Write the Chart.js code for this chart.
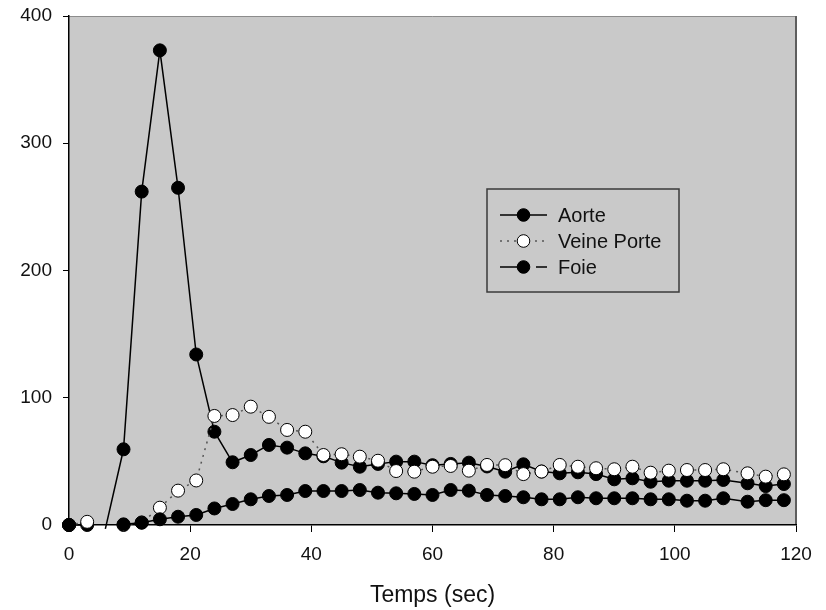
<!DOCTYPE html>
<html>
<head>
<meta charset="utf-8">
<script src="https://cdn.jsdelivr.net/npm/chart.js@4/dist/chart.umd.min.js"></script>
<style>
  html, body { margin: 0; padding: 0; background: #ffffff; }
  #wrap { width: 826px; height: 610px; }
</style>
</head>
<body>
<div id="wrap"><canvas id="c" width="826" height="610"></canvas></div>
<script>
// ---- data ----
const times = [0,3,6,9,12,15,18,21,24,27,30,33,36,39,42,45,48,51,54,57,60,63,66,69,72,75,78,81,84,87,90,93,96,99,102,105,108,112,115,118];
const aorte = [0,0,-3,59.5,262,373,265,134,73.3,49.3,55,62.9,60.8,56.3,54,49,45.8,48,49.8,49.8,47,48,49,46,41.9,47.7,42,40.6,41.4,40,35.9,36.7,34,34.8,34.8,34.8,35.4,32.8,30.6,32.2];
const veinePorte = [0,2.5,null,0,2,13.6,27,35,85.7,86.4,93,85,74.7,73.3,55,55.6,53.7,50.5,42.4,41.9,45.8,46.4,42.7,47.2,47,40,42,47.2,45.8,44.6,43.8,45.8,41.1,42.7,43.2,43.2,43.8,40.6,38,39.8];
const foie = [0,null,null,0.5,1.8,4.5,6.5,7.9,13,16.5,20.2,22.8,23.6,26.7,26.7,26.7,27.5,25.4,24.9,24.4,23.6,27.5,27,23.6,22.8,21.8,20.2,20.2,21.8,21,21,21,20.2,20.2,19.1,19.1,21,18.3,19.5,19.5];
const seriesLabels = ['Aorte', 'Veine Porte', 'Foie'];
const xTickValues = [0,20,40,60,80,100,120];
const yTickValues = [0,100,200,300,400];
const xTitle = 'Temps (sec)';

const toPoints = arr => times.map((t, i) => ({ x: t, y: arr[i] }));

const FONT = '"Liberation Sans", Arial, sans-serif';
const hideNeg = ctx => (ctx.raw && ctx.raw.y !== null && ctx.raw.y < 0) ? 0 : 6.5;

const frameBg = {
  id: 'frameBg',
  beforeDraw(chart) {
    const { ctx, chartArea: a } = chart;
    ctx.save();
    ctx.fillStyle = '#c9c9c9';
    ctx.fillRect(a.left, a.top, a.right - a.left, a.bottom - a.top);
    ctx.strokeStyle = '#8c8c8c';
    ctx.lineWidth = 1;
    ctx.beginPath();
    ctx.moveTo(a.left, a.top + 0.5);
    ctx.lineTo(a.right, a.top + 0.5);
    ctx.stroke();
    ctx.strokeStyle = '#5e5e5e';
    ctx.lineWidth = 2;
    ctx.beginPath();
    ctx.moveTo(a.right, a.top);
    ctx.lineTo(a.right, a.bottom);
    ctx.stroke();
    ctx.restore();
  }
};

const boxLegend = {
  id: 'boxLegend',
  afterDraw(chart) {
    const { ctx, chartArea: a } = chart;
    const left = a.left + 418, top = a.top + 173, w = 192, h = 103;
    ctx.save();
    ctx.strokeStyle = '#3a3a3a';
    ctx.lineWidth = 1.5;
    ctx.strokeRect(left, top, w, h);
    const styles = [
      { dash: [], color: '#000', fill: '#000' },
      { dash: [2, 5], color: '#555', fill: '#fff' },
      { dash: [22, 14], color: '#000', fill: '#000' }
    ];
    chart.data.datasets.forEach((ds, i) => {
      const y = top + 26 + i * 26;
      const x0 = left + 13, x1 = left + 60, xm = left + 36.5;
      const s = styles[i];
      ctx.setLineDash(s.dash);
      ctx.strokeStyle = s.color;
      ctx.lineWidth = 1.5;
      ctx.beginPath();
      ctx.moveTo(x0, y);
      ctx.lineTo(x1, y);
      ctx.stroke();
      ctx.setLineDash([]);
      ctx.beginPath();
      ctx.arc(xm, y, 6.3, 0, Math.PI * 2);
      ctx.fillStyle = s.fill;
      ctx.fill();
      ctx.strokeStyle = '#000';
      ctx.lineWidth = 1;
      ctx.stroke();
      ctx.fillStyle = '#111';
      ctx.font = '20px ' + FONT;
      ctx.textAlign = 'left';
      ctx.textBaseline = 'middle';
      ctx.fillText(ds.label, left + 71, y + 1);
    });
    ctx.restore();
  }
};

new Chart(document.getElementById('c'), {
  type: 'line',
  data: {
    datasets: [
      {
        label: seriesLabels[0],
        data: toPoints(aorte),
        order: 3,
        borderColor: '#000',
        borderWidth: 1.5,
        backgroundColor: '#000',
        pointBackgroundColor: '#000',
        pointBorderColor: '#000',
        pointBorderWidth: 1,
        pointRadius: hideNeg,
        tension: 0,
        clip: false,
        segment: {
          borderColor: ctx => (ctx.p1.parsed.y < 0) ? 'rgba(0,0,0,0)' : undefined
        }
      },
      {
        label: seriesLabels[1],
        data: toPoints(veinePorte),
        order: 2,
        borderColor: '#555',
        borderWidth: 1.5,
        borderDash: [2, 5],
        backgroundColor: '#fff',
        pointBackgroundColor: '#fff',
        pointBorderColor: '#000',
        pointBorderWidth: 1,
        pointRadius: 6.5,
        tension: 0,
        clip: false
      },
      {
        label: seriesLabels[2],
        data: toPoints(foie),
        order: 1,
        borderColor: '#000',
        borderWidth: 1.5,
        backgroundColor: '#000',
        pointBackgroundColor: '#000',
        pointBorderColor: '#000',
        pointBorderWidth: 1,
        pointRadius: 6.5,
        tension: 0,
        clip: false
      }
    ]
  },
  options: {
    responsive: false,
    animation: false,
    devicePixelRatio: 1,
    layout: { padding: { top: 16, right: 30, left: 0, bottom: 0 } },
    plugins: {
      legend: { display: false },
      tooltip: { enabled: false }
    },
    scales: {
      x: {
        type: 'linear',
        min: xTickValues[0],
        max: xTickValues[xTickValues.length - 1],
        afterBuildTicks: s => { s.ticks = xTickValues.map(v => ({ value: v })); },
        afterFit: s => { s.height = 85; s.paddingLeft = 0; s.paddingRight = 0; },
        grid: { drawOnChartArea: false, drawTicks: true, tickLength: 7, color: '#000', lineWidth: 1 },
        border: { display: true, color: '#000', width: 1.5 },
        ticks: { color: '#111', padding: 11, font: { family: FONT, size: 19 }, maxRotation: 0 },
        title: { display: true, text: xTitle, color: '#111', font: { family: FONT, size: 23 }, padding: { top: 0, bottom: 1 } }
      },
      y: {
        type: 'linear',
        min: yTickValues[0],
        max: yTickValues[yTickValues.length - 1],
        afterBuildTicks: s => { s.ticks = yTickValues.map(v => ({ value: v })); },
        afterFit: s => { s.width = 69; s.paddingTop = 0; s.paddingBottom = 0; },
        grid: { drawOnChartArea: false, drawTicks: true, tickLength: 6, color: '#000', lineWidth: 1 },
        border: { display: true, color: '#000', width: 1.5 },
        ticks: { color: '#111', padding: 11, font: { family: FONT, size: 19 } }
      }
    }
  },
  plugins: [frameBg, boxLegend]
});
</script>
</body>
</html>
